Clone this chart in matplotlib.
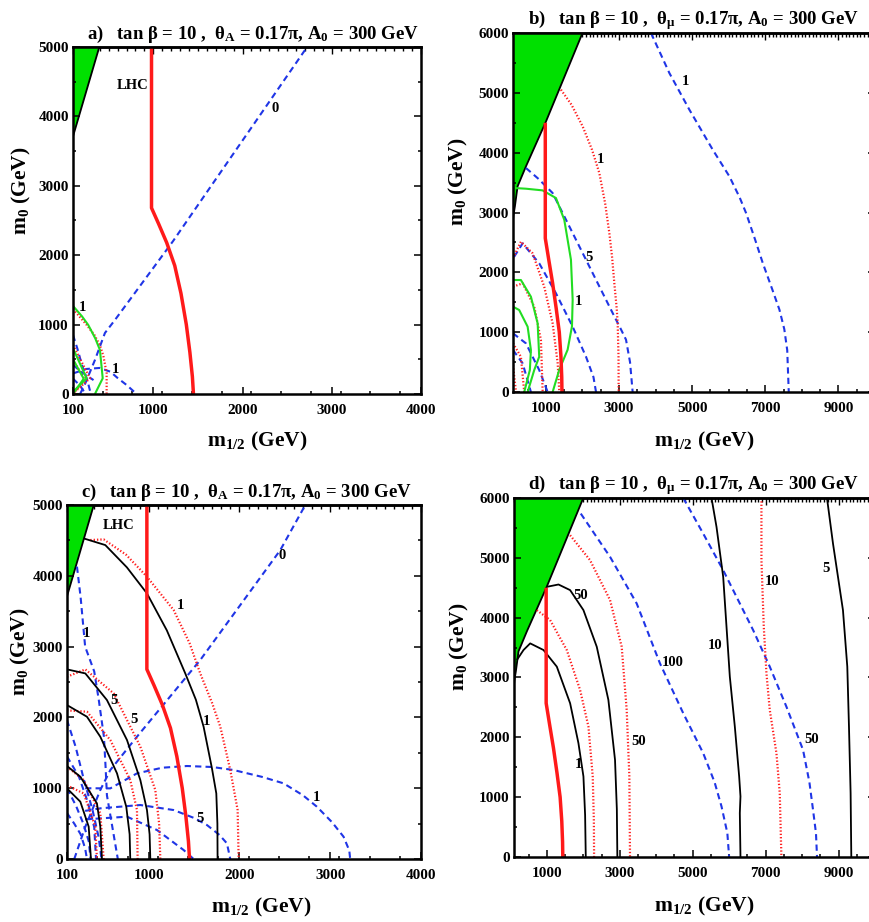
import matplotlib
matplotlib.use("Agg")
import matplotlib.pyplot as plt
from matplotlib.ticker import MultipleLocator, FixedLocator, NullFormatter
import numpy as np

plt.rcParams['font.family'] = ['Liberation Serif', 'DejaVu Serif']
plt.rcParams['font.weight'] = 'bold'
plt.rcParams['mathtext.fontset'] = 'custom'
plt.rcParams['mathtext.rm'] = 'Liberation Serif:bold'
plt.rcParams['mathtext.it'] = 'Liberation Serif:bold'
plt.rcParams['mathtext.bf'] = 'Liberation Serif:bold'

# ---------------- data (m_1/2, m_0) in GeV ----------------
# shared curves
lhc_ac = [(980, 5000), (980, 2680), (1060, 2450), (1150, 2180), (1240, 1850), (1310, 1450),
          (1370, 1000), (1410, 600), (1438, 250), (1450, 0)]
lhc_bd = [(982, 4500), (982, 2570), (1080, 2200), (1182, 1822), (1280, 1400), (1365, 1000),
          (1410, 600), (1432, 250), (1438, 0)]
green_ac = [(100, 5000), (395, 5000), (100, 3710)]
green_bd = [(100, 6000), (2000, 6000), (1000, 4520), (453, 3771), (224, 3437), (151, 3103), (110, 2950), (100, 2880)]

# panel a
a_dash_0 = [(180, 0), (240, 160), (346, 490), (458, 879), (570, 1066), (1220, 2200), (2724, 5000)]
a_dash_1 = [(110, 300), (250, 360), (400, 375), (520, 320), (600, 230), (700, 130), (813, 0)]
a_dash_x1 = [(100, 850), (150, 650), (200, 420), (260, 200), (300, 0)]
a_dash_x2 = [(100, 420), (180, 330), (260, 260), (330, 200)]
a_dash_x3 = [(100, 220), (180, 120), (240, 0)]
a_green_1 = [(100, 1268), (200, 1120), (271, 994), (350, 800), (402, 634), (433, 226), (346, 0)]
a_red_1 = [(100, 1224), (250, 1000), (340, 850), (402, 700), (440, 550), (477, 300), (477, 0)]
a_green_2 = [(100, 658), (253, 226), (122, 58), (100, 30)]
a_red_2 = [(100, 706), (290, 226), (122, 33), (100, 10)]
a_green_3 = [(100, 500), (220, 220), (110, 20)]
a_red_3 = [(100, 490), (234, 202), (105, 10)]

# panel b
b_dash_1 = [(3874, 6000), (4376, 5331), (4923, 4719), (5562, 4050), (6018, 3604), (6300, 3250), (6474, 2992),
            (6720, 2550), (6931, 2156), (7200, 1700), (7387, 1376), (7520, 1050), (7600, 700), (7642, 0)]
b_dash_5 = [(453, 3744), (800, 3560), (1182, 3326), (1639, 2769), (2186, 2100), (2825, 1320), (3050, 1050),
            (3190, 875), (3300, 500), (3372, 0)]
b_dash_2 = [(132, 2262), (362, 2485), (816, 2151), (1274, 1650), (1731, 1092), (2096, 590), (2300, 250), (2370, 0)]
b_dash_3 = [(100, 981), (452, 814), (816, 368), (1047, 0)]
b_dash_4 = [(100, 702), (362, 480), (589, 0)]
b_red_1 = [(1411, 5053), (1700, 4800), (2004, 4440), (2260, 4050), (2460, 3660), (2620, 3150), (2734, 2657),
           (2810, 2250), (2870, 1822), (2935, 1400), (2962, 1153), (2985, 600), (2989, 0)]
b_red_2 = [(100, 2240), (315, 2512), (636, 2318), (953, 1760), (1183, 1148), (1321, 480), (1365, 0)]
b_red_3 = [(100, 1760), (362, 1817), (680, 1426), (863, 869), (910, 0)]
b_red_4 = [(100, 814), (315, 590), (406, 0)]
b_red_5 = [(100, 450), (180, 0)]
b_green_1 = [(151, 3409), (453, 3398), (909, 3370), (1274, 3242), (1501, 2880), (1684, 2212), (1731, 1543),
             (1712, 1097), (1593, 707), (1365, 373), (1183, 0)]
b_green_2 = [(100, 1872), (315, 1872), (589, 1593), (773, 1148), (816, 590), (680, 368), (499, 0)]
b_green_3 = [(100, 1426), (268, 1371), (499, 1092), (589, 702), (560, 368), (406, 0)]

# panel c
c_dash_0 = [(180, 0), (300, 450), (380, 700), (467, 975), (577, 1257), (871, 1728), (1568, 2811),
            (2450, 4364), (2725, 5000)]
c_dash_1a = [(210, 4130), (250, 3700), (300, 3000), (400, 2650), (450, 2250), (507, 1727),
             (525, 1304), (540, 900), (600, 450), (660, 0)]
c_dash_1b = [(300, 1000), (577, 998), (871, 1210), (1150, 1290), (1422, 1314), (1700, 1300), (1936, 1257),
             (2250, 1160), (2486, 1069), (2700, 900), (2853, 739), (3020, 520), (3147, 315), (3210, 120), (3220, 0)]
c_dash_5 = [(300, 680), (467, 716), (908, 763), (1275, 692), (1500, 580), (1642, 480), (1780, 340),
            (1862, 221), (1899, 0)]
c_dash_x1 = [(300, 560), (467, 574), (761, 598), (1091, 410), (1385, 127), (1495, 0)]
c_dash_x2 = [(100, 1963), (195, 1586), (287, 1116), (380, 700), (450, 300), (480, 0)]
c_dash_x3 = [(100, 1450), (232, 1162), (330, 800), (400, 450), (420, 0)]
c_dash_x4 = [(100, 650), (180, 500), (250, 350), (300, 150), (320, 0)]
c_dash_x5 = [(100, 1000), (200, 750), (280, 500), (340, 250), (360, 0)]
c_black_1 = [(284, 4529), (522, 4435), (760, 4120), (981, 3752), (1200, 3230), (1403, 2622), (1520, 2250),
             (1605, 1869), (1697, 1281), (1745, 927), (1757, 500), (1759, 0)]
c_red_1 = [(357, 4506), (504, 4515), (750, 4300), (981, 3988), (1275, 3517), (1450, 3050), (1568, 2622),
           (1700, 2200), (1789, 1869), (1899, 1257), (1980, 692), (1991, 0)]
c_black_5 = [(100, 2679), (302, 2622), (540, 2246), (761, 1681), (908, 1116), (981, 692), (1010, 350), (1018, 0)]
c_red_5 = [(100, 2575), (302, 2679), (614, 2340), (908, 1587), (1073, 975), (1115, 500), (1128, 0)]
c_black_2 = [(100, 2175), (320, 2010), (467, 1728), (651, 1210), (753, 739), (790, 350), (797, 0)]
c_red_2 = [(100, 2100), (320, 2081), (577, 1681), (797, 1116), (871, 692), (878, 0)]
c_black_3 = [(100, 1314), (247, 1163), (430, 786), (467, 457), (485, 0)]
c_red_3 = [(100, 1304), (284, 1116), (467, 645), (504, 0)]
c_black_4 = [(100, 998), (247, 810), (339, 457), (364, 0)]
c_red_4 = [(100, 1040), (284, 927), (412, 457), (430, 0)]

# panel d
d_black_1 = [(179, 3292), (361, 3459), (544, 3570), (909, 3459), (1274, 3181), (1639, 2569),
             (1867, 1902), (2004, 1346), (2050, 700), (2068, 0)]
d_black_50 = [(1000, 4515), (1320, 4554), (1639, 4460), (2004, 4126), (2369, 3514), (2688, 2625),
              (2870, 1624), (2920, 800), (2934, 0)]
d_red_50a = [(726, 4126), (1091, 3959), (1547, 3459), (1912, 2792), (2141, 2180), (2259, 1346), (2290, 600), (2296, 0)]
d_red_50b = [(1639, 5377), (2186, 4960), (2734, 4293), (3053, 3514), (3190, 2458), (3263, 1346), (3281, 0)]
d_dash_100 = [(1931, 5739), (2734, 5016), (3464, 4237), (4102, 3236), (4741, 2402), (5288, 1735),
              (5600, 1250), (5790, 845), (5950, 400), (5999, 0)]
d_black_10 = [(5516, 6000), (5653, 5516), (5836, 4682), (5927, 3848), (6018, 3014), (6155, 2180),
              (6274, 1346), (6310, 1012), (6292, 734), (6310, 0)]
d_dash_50 = [(4741, 6000), (5288, 5405), (5836, 4793), (6657, 3792), (7113, 3181), (7569, 2513),
             (8025, 1791), (8200, 1250), (8299, 790), (8380, 400), (8409, 0)]
d_red_10 = [(6885, 6000), (6885, 4960), (6949, 3848), (7022, 3070), (7113, 2458), (7296, 1735),
            (7387, 1068), (7432, 0)]
d_black_5 = [(8682, 6000), (8847, 5238), (9120, 4126), (9239, 3181), (9285, 2180), (9330, 1068), (9349, 0)]

# labels: (text, x, y)
a_labels = [("LHC", 772, 4438), ("0", 2362, 4117), ("1", 209, 1248), ("1", 578, 346)]
b_labels = [("1", 4814, 5192), ("1", 2487, 3894), ("5", 2186, 2256), ("1", 1894, 1515)]
c_labels = [("LHC", 669, 4717), ("0", 2468, 4294), ("1", 1355, 3588), ("1", 1642, 1940), ("1", 320, 3187),
            ("5", 614, 2246), ("5", 842, 1973), ("1", 2853, 871), ("5", 1568, 574)]
d_labels = [("50", 1931, 4376), ("50", 3509, 1930), ("100", 4449, 3248), ("10", 5608, 3542),
            ("10", 7186, 4599), ("50", 8254, 1957), ("5", 8646, 4821), ("1", 1867, 1540)]

titles = [r"a)   tan β = 10 ,  θ$_\mathrm{A}$ = 0.17π, A$_0$ = 300 GeV",
          r"b)   tan β = 10 ,  θ$_\mathrm{\mu}$ = 0.17π, A$_0$ = 300 GeV",
          r"c)   tan β = 10 ,  θ$_\mathrm{A}$ = 0.17π, A$_0$ = 300 GeV",
          r"d)   tan β = 10 ,  θ$_\mathrm{\mu}$ = 0.17π, A$_0$ = 300 GeV"]
xticks_ac = [100, 1000, 2000, 3000, 4000]
xticks_bd = [1000, 3000, 5000, 7000, 9000]
yticks_ac = [0, 1000, 2000, 3000, 4000, 5000]
yticks_bd = [0, 1000, 2000, 3000, 4000, 5000, 6000]

# ---------------- styles ----------------
GREEN = '#00e000'
DASH = dict(color='#1f35e6', lw=1.5, ls=(0, (3.0, 2.0)))
DOT = dict(color='#ff1f1f', lw=1.6, ls=(0, (0.6, 0.9)))
BLK = dict(color='black', lw=1.3)
GRN = dict(color='#22dd22', lw=1.5)
LHC = dict(color='#ff1a1a', lw=2.5)


def draw(ax, pts, **kw):
    arr = np.array(pts, dtype=float)
    ax.plot(arr[:, 0], arr[:, 1], solid_capstyle='butt', solid_joinstyle='round', **kw)


def region(ax, pts):
    arr = np.array(pts, dtype=float)
    ax.fill(arr[:, 0], arr[:, 1], color=GREEN, zorder=1, lw=0)
    ax.plot(arr[1:, 0], arr[1:, 1], color='black', lw=1.3, zorder=2)


def style(ax, xlim, ylim, xt, xminor, yt, title, xlab_x, ylab_x):
    ax.set_xlim(*xlim)
    ax.set_ylim(*ylim)
    ax.set_xticks(xt)
    ax.set_xticklabels([str(v) for v in xt])
    ax.set_yticks(yt)
    ax.set_yticklabels([str(v) for v in yt])
    ax.xaxis.set_minor_locator(FixedLocator(xminor))
    ax.yaxis.set_minor_locator(MultipleLocator(500))
    ax.tick_params(which='both', direction='in', top=False, right=True, width=1.1)
    ax.tick_params(which='major', length=5, labelsize=11)
    ax.tick_params(which='minor', length=2.5)
    ax.tick_params(axis='x', which='major', pad=7)
    ax.tick_params(axis='y', which='major', pad=3)
    for lab in ax.get_xticklabels() + ax.get_yticklabels():
        lab.set_fontweight('bold')
    sec = ax.secondary_xaxis('top')
    sec.set_xticks(xt)
    sec.xaxis.set_major_formatter(NullFormatter())
    sec.xaxis.set_minor_locator(MultipleLocator(100))
    sec.tick_params(which='both', direction='in', width=1.0)
    sec.tick_params(which='major', length=5)
    sec.tick_params(which='minor', length=3)
    for sp in ax.spines.values():
        sp.set_linewidth(1.8)
    sec.spines['top'].set_linewidth(1.8)
    ax.set_xlabel(r"m$_{1/2}$ (GeV)", fontsize=15.5, fontweight='bold')
    ax.set_ylabel(r"m$_0$ (GeV)", fontsize=15.5, fontweight='bold')
    ax.xaxis.set_label_coords(xlab_x, -0.105)
    ax.yaxis.set_label_coords(ylab_x, 0.585)
    ax.text(0.04, 1.024, title, transform=ax.transAxes, ha='left', va='baseline',
            fontsize=13.5, fontweight='bold')


def labels(ax, labs):
    for t, x, y in labs:
        ax.text(x, y, t, ha='center', va='center', fontsize=10.5, fontweight='bold', zorder=5)


fig = plt.figure(figsize=(8.7, 9.22), dpi=100)
axa = fig.add_axes([0.0839, 0.5727, 0.4000, 0.3764])
axb = fig.add_axes([0.5897, 0.5748, 0.4160, 0.3894])
axc = fig.add_axes([0.0770, 0.0683, 0.4069, 0.3839])
axd = fig.add_axes([0.5908, 0.0705, 0.4150, 0.3894])

minor_ac = [v for v in np.arange(100, 4001, 1000 / 3.0) if v not in xticks_ac]
minor_bd = list(range(500, 10001, 500))

# panel a
region(axa, green_ac)
for c in [a_dash_0, a_dash_1, a_dash_x1, a_dash_x2, a_dash_x3]:
    draw(axa, c, **DASH)
for c in [a_red_1, a_red_2, a_red_3]:
    draw(axa, c, **DOT)
for c in [a_green_1, a_green_2, a_green_3]:
    draw(axa, c, **GRN)
draw(axa, lhc_ac, **LHC)
labels(axa, a_labels)
style(axa, (100, 4000), (0, 5000), xticks_ac, minor_ac, yticks_ac, titles[0], 0.53, -0.115)

# panel b
region(axb, green_bd)
for c in [b_dash_1, b_dash_5, b_dash_2, b_dash_3, b_dash_4]:
    draw(axb, c, **DASH)
for c in [b_red_1, b_red_2, b_red_3, b_red_4, b_red_5]:
    draw(axb, c, **DOT)
for c in [b_green_1, b_green_2, b_green_3]:
    draw(axb, c, **GRN)
draw(axb, lhc_bd, **LHC)
labels(axb, b_labels)
style(axb, (100, 10000), (0, 6000), xticks_bd, minor_bd, yticks_bd, titles[1], 0.528, -0.12)

# panel c
region(axc, green_ac)
for c in [c_dash_0, c_dash_1a, c_dash_1b, c_dash_5, c_dash_x1, c_dash_x2, c_dash_x3, c_dash_x4, c_dash_x5]:
    draw(axc, c, **DASH)
for c in [c_red_1, c_red_5, c_red_2, c_red_3, c_red_4]:
    draw(axc, c, **DOT)
for c in [c_black_1, c_black_5, c_black_2, c_black_3, c_black_4]:
    draw(axc, c, **BLK)
draw(axc, lhc_ac, **LHC)
labels(axc, c_labels)
style(axc, (100, 4000), (0, 5000), xticks_ac, minor_ac, yticks_ac, titles[2], 0.548, -0.10)

# panel d
region(axd, green_bd)
for c in [d_dash_100, d_dash_50]:
    draw(axd, c, **DASH)
for c in [d_red_50a, d_red_50b, d_red_10]:
    draw(axd, c, **DOT)
for c in [d_black_1, d_black_50, d_black_10, d_black_5]:
    draw(axd, c, **BLK)
draw(axd, lhc_bd, **LHC)
labels(axd, d_labels)
style(axd, (100, 10000), (0, 6000), xticks_bd, minor_bd, yticks_bd, titles[3], 0.526, -0.12)

fig.savefig("out.png", dpi=100)
